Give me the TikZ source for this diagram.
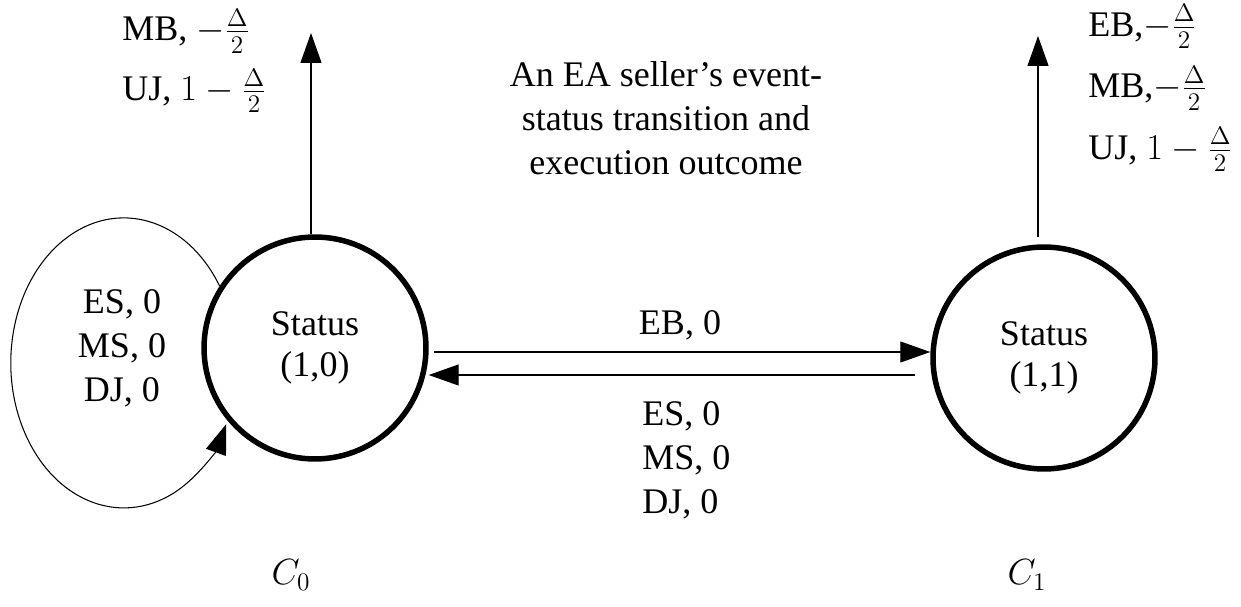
\documentclass[tikz,border=0pt]{standalone}
\usepackage{fontspec}
\setmainfont{Liberation Serif}
\usetikzlibrary{arrows.meta}
\begin{document}
\begin{tikzpicture}[x=0.02cm,y=0.02cm,
  state/.style={draw, circle, line width=0.11cm, minimum size=4.44cm,
    inner sep=0pt, align=center, font=\fontsize{20.5}{23}\selectfont},
  lbl/.style={inner sep=0pt, font=\fontsize{20.5}{25}\selectfont},
  outlbl/.style={inner sep=0pt, align=left, anchor=west},
  klass/.style={font=\fontsize{22}{26}\selectfont},
  flow/.style={line width=0.7pt, -{Triangle[length=0.6cm,width=0.42cm]}},
]
\useasboundingbox (0,0) rectangle (1241,606);

% the two event states
\node[state] (c0) at (315,258) {Status\\(1,0)};
\node[state] (c1) at (1044,248) {Status\\(1,1)};

% self-loop on state (1,0)
\draw[flow, line width=0.6pt] (c0.147)
  arc[start angle=32, end angle=335, x radius=113, y radius=145];
\node[lbl, align=center] (looplab) at (122,258) {ES, 0\\MS, 0\\DJ, 0};

% transitions between the states
\coordinate (eb) at (0,254);
\coordinate (rt) at (0,231);
\draw[flow, shorten <=0.1cm] (c0.east |- eb) -- (c1.west |- eb);
\draw[flow, shorten <=0.3cm] (c1.west |- rt) -- (c0.east |- rt);
\node[lbl] (eblab) at (680,281) {EB, 0};
\node[lbl, align=left, anchor=west] (backlab) at (642,146) {ES, 0\\MS, 0\\DJ, 0};

% execution outcomes
\coordinate (o0) at (311,573);
\coordinate (o1) at (1038,570);
\draw[flow] (c0.north -| o0) -- (o0);
\draw[flow, shorten <=0.14cm] (c1.north -| o1) -- (o1);
\node[outlbl, font=\fontsize{20.5}{34}\selectfont] (out0) at (122,545)
  {MB, $-\frac{\Delta}{2}$\\UJ, $1-\frac{\Delta}{2}$};
\node[outlbl, font=\fontsize{20.5}{35}\selectfont] (out1) at (1088,518)
  {EB,$-\frac{\Delta}{2}$\\MB,$-\frac{\Delta}{2}$\\UJ, $1-\frac{\Delta}{2}$};

% caption
\node[lbl, align=center] (title) at (666,488)
  {An EA seller’s event-\\status transition and\\execution outcome};

% class labels
\node[klass] (k0) at (291,31) {$C_0$};
\node[klass] (k1) at (1027,31) {$C_1$};
\end{tikzpicture}
\end{document}
